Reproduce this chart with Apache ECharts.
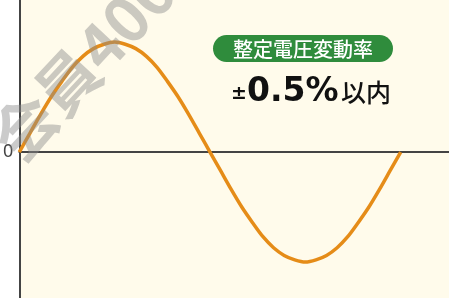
<!DOCTYPE html>
<html>
<head>
<meta charset="utf-8">
<script src="https://cdn.jsdelivr.net/npm/echarts@6/dist/echarts.min.js"></script>
<style>
  html, body { margin: 0; padding: 0; background: #ffffff; }
  #chart { width: 449px; height: 298px; }
</style>
</head>
<body>
<div id="chart"></div>
<script>
// 位相（度）と電圧（振幅1で正規化）
var phase = [0, 10, 20, 30, 40, 50, 60, 70, 80, 90, 100, 110, 120, 130, 140, 150, 160, 170, 180,
             190, 200, 210, 220, 230, 240, 250, 260, 270, 280, 290, 300, 310, 320, 330, 340, 350, 360];
var voltage = [0, 0.17, 0.34, 0.5, 0.64, 0.77, 0.87, 0.94, 0.98, 1, 0.98, 0.94, 0.87, 0.77, 0.64, 0.5, 0.34, 0.17, 0,
               -0.17, -0.34, -0.5, -0.64, -0.77, -0.87, -0.94, -0.98, -1, -0.98, -0.94, -0.87, -0.77, -0.64, -0.5, -0.34, -0.17, 0];
var yTicks = [0];
var badgeText = '整定電圧変動率';

var chart = echarts.init(document.getElementById('chart'));

var seriesData = [];
for (var i = 0; i < phase.length; i++) {
    seriesData.push([phase[i], voltage[i]]);
}

option = {
    backgroundColor: '#ffffff',
    animation: false,
    grid: {
        left: 13, right: 0, top: 0, bottom: 0,
        show: true,
        backgroundColor: '#fffbeb',
        borderWidth: 0
    },
    xAxis: {
        type: 'value',
        min: 0,
        max: 405.6,
        axisLine: { onZero: true, lineStyle: { color: '#444', width: 2 } },
        axisTick: { show: false },
        axisLabel: { show: false },
        splitLine: { show: false }
    },
    yAxis: {
        type: 'value',
        min: -1.327,
        max: 1.382,
        axisLine: { show: true, lineStyle: { color: '#444', width: 2 } },
        axisTick: { show: false },
        axisLabel: {
            customValues: yTicks,
            margin: 6,
            color: '#444',
            fontSize: 18,
            fontFamily: 'Noto Sans'
        },
        splitLine: { show: false }
    },
    graphic: [
        {
            type: 'text',
            z: 100,
            rotation: 0.82,
            x: 4, y: 150,
            style: {
                text: '会員400',
                fill: 'rgba(140,140,140,0.45)',
                fontSize: 62,
                fontWeight: 'bold',
                fontFamily: 'Noto Sans CJK JP',
                verticalAlign: 'middle'
            }
        },
        {
            type: 'rect',
            shape: { x: 213, y: 35, width: 180, height: 27, r: 13.5 },
            style: { fill: '#2f8c3c' },
            z: 50
        },
        {
            type: 'text',
            z: 51,
            x: 303, y: 49,
            style: {
                text: badgeText,
                fill: '#ffffff',
                fontSize: 20,
                fontWeight: 500,
                fontFamily: 'Noto Sans CJK JP',
                align: 'center',
                verticalAlign: 'middle'
            }
        },
        {
            type: 'text',
            z: 51,
            x: 231, y: 94,
            style: {
                text: '±',
                fill: '#111',
                fontSize: 19,
                fontWeight: 'bold',
                fontFamily: 'DejaVu Sans',
                align: 'left',
                verticalAlign: 'middle'
            }
        },
        {
            type: 'text',
            z: 51,
            x: 247, y: 92,
            style: {
                text: '0.5%',
                fill: '#111',
                fontSize: 33,
                fontWeight: 'bold',
                fontFamily: 'DejaVu Sans',
                align: 'left',
                verticalAlign: 'middle'
            }
        },
        {
            type: 'text',
            z: 51,
            x: 341, y: 92,
            style: {
                text: '以内',
                fill: '#111',
                fontSize: 25,
                fontWeight: 500,
                fontFamily: 'Noto Sans CJK JP',
                align: 'left',
                verticalAlign: 'middle'
            }
        }
    ],
    series: [
        {
            type: 'line',
            data: seriesData,
            smooth: 0.3,
            showSymbol: false,
            lineStyle: { color: '#e58c18', width: 3.5 }
        }
    ]
};

if (option && typeof option === "object") {
    chart.setOption(option, true);
}
</script>
</body>
</html>
